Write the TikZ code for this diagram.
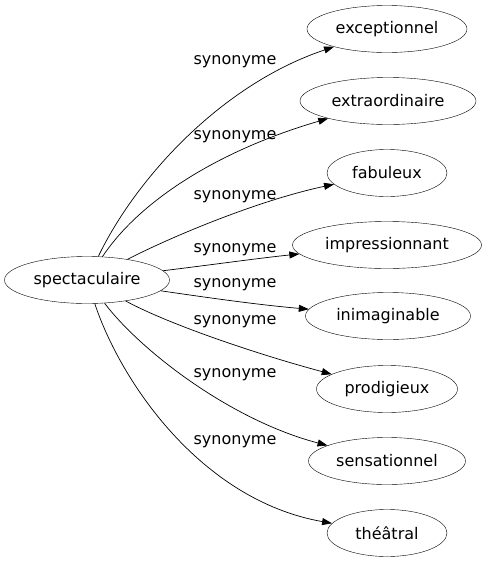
\documentclass[tikz,border=0pt]{standalone}
\usepackage{fontspec}
\setmainfont{DejaVu Sans}
\usetikzlibrary{shapes.geometric,arrows.meta}
\tikzset{
  word/.style={draw,ellipse,inner sep=0pt,minimum height=47pt,font=\fontsize{16}{18}\selectfont},
  lbl/.style={font=\fontsize{16}{18}\selectfont,inner sep=0pt},
  edge/.style={draw,line width=0.7pt,-{Triangle[length=10pt,width=7pt]}}
}
\begin{document}
\begin{tikzpicture}[x=1pt,y=-1pt]
\useasboundingbox (0,0) rectangle (486,563);
\node[word,minimum width=165pt] (src) at (87,280) {spectaculaire};
\node[word,minimum width=160pt] (t1) at (387,29) {exceptionnel};
\node[word,minimum width=176pt] (t2) at (388,101) {extraordinaire};
\node[word,minimum width=120pt] (t3) at (387,173) {fabuleux};
\node[word,minimum width=189pt] (t4) at (387,245) {impressionnant};
\node[word,minimum width=165pt] (t5) at (388,316) {inimaginable};
\node[word,minimum width=141pt] (t6) at (387,389) {prodigieux};
\node[word,minimum width=157pt] (t7) at (387,461) {sensationnel};
\node[word,minimum width=120pt] (t8) at (387,533) {théâtral};

\path[edge] (src) .. controls (135,180) and (220,85) .. (t1);
\path[edge] (src) .. controls (140,200) and (220,150) .. (t2);
\path[edge] (src) .. controls (175,235) and (260,200) .. (t3);
\path[edge] (src) .. controls (210,265) and (260,258) .. (t4);
\path[edge] (src) .. controls (210,298) and (260,305) .. (t5);
\path[edge] (src) .. controls (170,325) and (260,355) .. (t6);
\path[edge] (src) .. controls (140,350) and (230,420) .. (t7);
\path[edge] (src) .. controls (120,380) and (200,500) .. (t8);

\node[lbl] (l1) at (235,62) {synonyme};
\node[lbl] (l2) at (235,137) {synonyme};
\node[lbl] (l3) at (235,197) {synonyme};
\node[lbl] (l4) at (235,250) {synonyme};
\node[lbl] (l5) at (235,285) {synonyme};
\node[lbl] (l6) at (235,322) {synonyme};
\node[lbl] (l7) at (235,375) {synonyme};
\node[lbl] (l8) at (235,442) {synonyme};
\end{tikzpicture}
\end{document}
